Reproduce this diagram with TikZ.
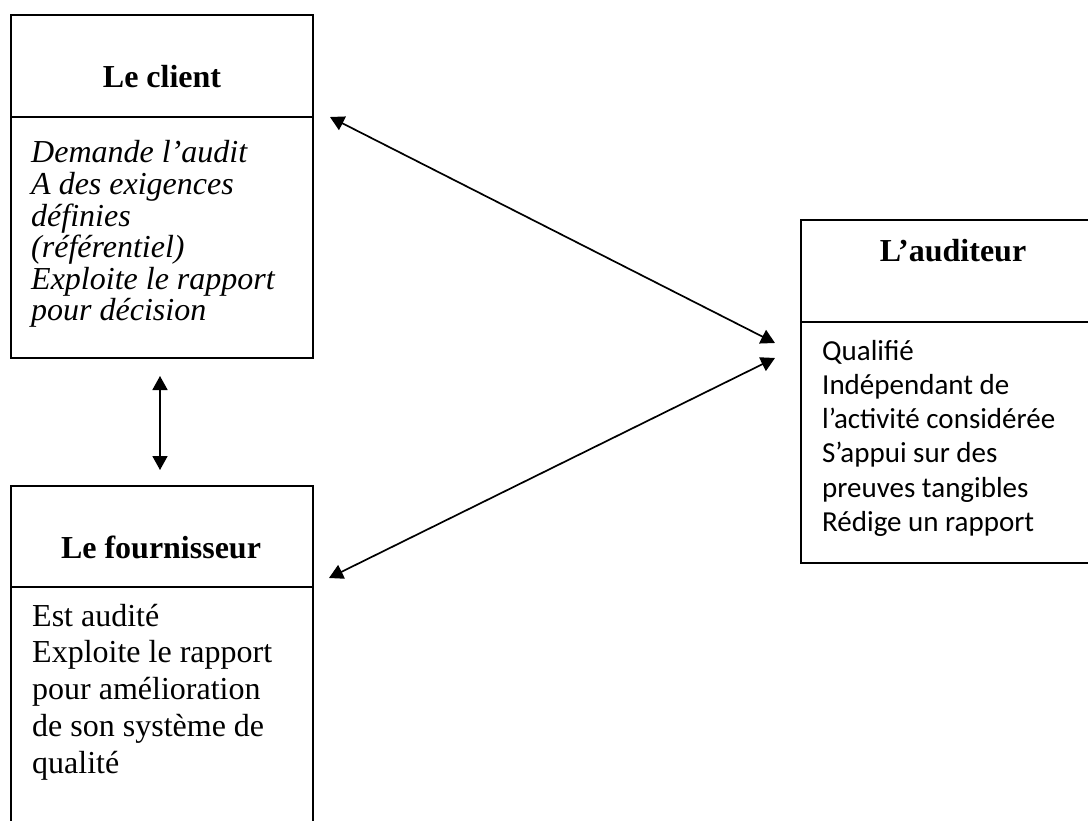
\documentclass[tikz,border=0pt]{standalone}
\usepackage{fontspec}
\setmainfont{Liberation Serif}
\newfontfamily\calibri{Carlito}
\usetikzlibrary{arrows.meta}
\begin{document}
\begin{tikzpicture}[x=1pt,y=-1pt,
  box/.style={draw, line width=1.9pt, anchor=north west, inner sep=0pt, outer sep=0pt},
  link/.style={line width=1.7pt,
    {Triangle[length=14pt,width=15pt]}-{Triangle[length=14pt,width=15pt]}},
  title/.style={anchor=base, inner sep=0pt, font=\fontsize{32}{32}\selectfont\bfseries},
  body/.style={anchor=base west, inner sep=0pt}]
\clip (0,0) rectangle (1088,821);
\fill[white] (0,0) rectangle (1088,821);

% Le client
\node[box, minimum width=302pt, minimum height=102pt] (clienthead) at (11,15) {};
\node[box, minimum width=302pt, minimum height=241pt] (clientbody) at (11,117) {};
\node[title] (clienttitle) at (162,88) {Le client};
\node[body] (clienttext) at (31,163) {\parbox[t]{280pt}{\fontsize{32}{31.6}\selectfont\itshape
  Demande l’audit\\A des exigences\\définies\\(référentiel)\\Exploite le rapport\\pour décision}};

% Le fournisseur
\node[box, minimum width=302pt, minimum height=101pt] (fournhead) at (11,486) {};
\node[box, minimum width=302pt, minimum height=250pt] (fournbody) at (11,587) {};
\node[title] (fourntitle) at (161,558) {Le fournisseur};
\node[body] (fourntext) at (32,626) {\parbox[t]{280pt}{\fontsize{32}{36.8}\selectfont
  Est audité\\Exploite le rapport\\pour amélioration\\de son système de\\qualité}};

% L'auditeur
\node[box, minimum width=300pt, minimum height=102pt] (audhead) at (801,220) {};
\node[box, minimum width=300pt, minimum height=241pt] (audbody) at (801,322) {};
\node[title] (audtitle) at (953,262) {L’auditeur};
\node[body] (audtext) at (822,360) {\parbox[t]{270pt}{\calibri\fontsize{29}{34.3}\selectfont
  Qualifié\\Indépendant de\\l’activité considérée\\S’appui sur des\\preuves tangibles\\Rédige un rapport}};

% Connector end points
\coordinate (cA) at (330,117);
\coordinate (aA) at (775,343);
\coordinate (aF) at (775,358);
\coordinate (fA) at (329,578);
\coordinate (cF) at (160,376);
\coordinate (fC) at (160,470);

\draw[link] (cA) -- (aA);
\draw[link] (fA) -- (aF);
\draw[link] (cF) -- (fC);
\end{tikzpicture}
\end{document}
